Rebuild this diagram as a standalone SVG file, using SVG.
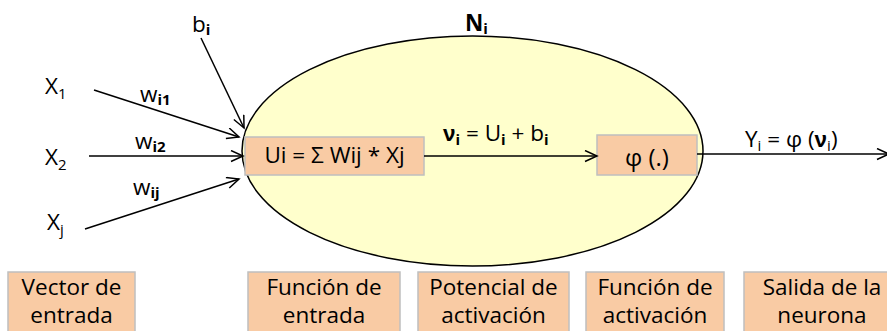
<svg xmlns="http://www.w3.org/2000/svg" width="887" height="331" viewBox="0 0 887 331">
<style>
text{font-family:"Open Sans","Liberation Sans",sans-serif;font-size:22.5px;fill:#000}
.sub{font-size:15px}
.b{font-weight:bold}
.nu{font-family:"Liberation Sans",sans-serif;font-weight:bold}
.box{fill:#F9CBA4;stroke:#BFBFBF;stroke-width:1.5}
.c{stroke:#000;stroke-width:1.5;fill:none;marker-end:url(#arr)}
.mid{text-anchor:middle}
</style>
<defs>
<marker id="arr" markerUnits="userSpaceOnUse" markerWidth="16" markerHeight="16" refX="13" refY="6" orient="auto">
<path d="M1,0.5 L13,6 L1,11.5" fill="none" stroke="#000" stroke-width="1.5"/>
</marker>
</defs>
<g id="neuron">
<ellipse cx="472.5" cy="151" rx="230.5" ry="115" fill="#FFFFCC" stroke="#000" stroke-width="1.5"/>
<text x="465" y="31" class="b">N<tspan class="sub" dy="3">i</tspan></text>
</g>
<g id="input-fn">
<rect class="box" x="245" y="137" width="179" height="38"/>
<text x="334.5" y="163" class="mid">Ui = Σ Wij * Xj</text>
</g>
<g id="act-fn">
<rect class="box" x="597" y="135" width="100" height="40"/>
<text x="647" y="166" class="mid" style="font-size:24px">φ (.)</text>
</g>
<g id="x1"><text x="45" y="94">X<tspan class="sub" dy="5">1</tspan></text></g>
<g id="x2"><text x="45" y="165">X<tspan class="sub" dy="5">2</tspan></text></g>
<g id="xj"><text x="47" y="230">X<tspan class="sub" dy="5">j</tspan></text></g>
<g id="bias"><text x="192" y="32">b<tspan class="sub b" dy="3">i</tspan></text></g>
<g id="connectors">
<line class="c" x1="94" y1="90" x2="239" y2="137"/>
<line class="c" x1="89" y1="156" x2="243" y2="156"/>
<line class="c" x1="85" y1="229" x2="239" y2="179"/>
<line class="c" x1="201" y1="38" x2="244" y2="128"/>
<line class="c" x1="424" y1="156" x2="597" y2="156"/>
<line class="c" x1="697" y1="154" x2="889" y2="154"/>
<text x="140" y="102">w<tspan class="sub b" dy="3">i1</tspan></text>
<text x="135" y="149">w<tspan class="sub b" dy="3">i2</tspan></text>
<text x="133" y="195">w<tspan class="sub b" dy="3">ij</tspan></text>
<text x="443" y="141"><tspan class="nu">ν</tspan><tspan class="sub b" dy="4">i</tspan><tspan dy="-4"> = U</tspan><tspan class="sub b" dy="4">i</tspan><tspan dy="-4"> + b</tspan><tspan class="sub b" dy="4">i</tspan></text>
<text x="745" y="147">Y<tspan class="sub" dy="4">i</tspan><tspan dy="-4"> = φ (</tspan><tspan class="nu">ν</tspan><tspan class="sub" dy="4">i</tspan><tspan dy="-4">)</tspan></text>
</g>
<g id="lbl-vector">
<rect class="box" x="8" y="272" width="127" height="70"/>
<text x="71.5" y="295" class="mid">Vector de</text>
<text x="71.5" y="323" class="mid">entrada</text>
</g>
<g id="lbl-funcion-entrada">
<rect class="box" x="248" y="272" width="152" height="70"/>
<text x="324" y="295" class="mid">Función de</text>
<text x="324" y="323" class="mid">entrada</text>
</g>
<g id="lbl-potencial">
<rect class="box" x="418" y="272" width="151" height="70"/>
<text x="493.5" y="295" class="mid">Potencial de</text>
<text x="493.5" y="323" class="mid">activación</text>
</g>
<g id="lbl-funcion-activacion">
<rect class="box" x="586" y="272" width="138" height="70"/>
<text x="655" y="295" class="mid">Función de</text>
<text x="655" y="323" class="mid">activación</text>
</g>
<g id="lbl-salida">
<rect class="box" x="744" y="272" width="156" height="70"/>
<text x="822" y="295" class="mid">Salida de la</text>
<text x="822" y="323" class="mid">neurona</text>
</g>
</svg>
